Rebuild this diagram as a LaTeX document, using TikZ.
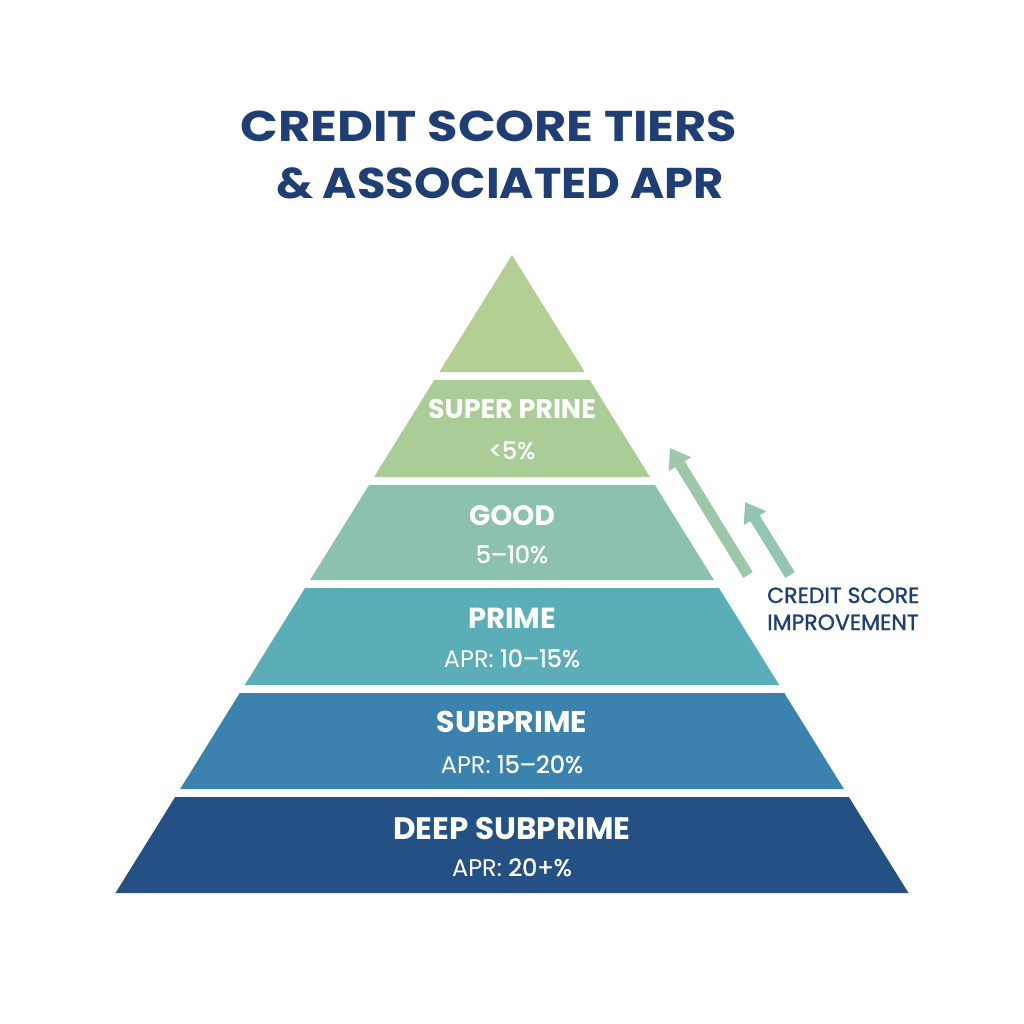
\documentclass[tikz,border=0pt]{standalone}
\usepackage{fontspec}
\setmainfont{Poppins}
\newfontfamily\titlefont[FakeStretch=1.15]{Poppins}
\newfontfamily\titlefontb[FakeStretch=1.08]{Poppins}
\newfontfamily\medfont[FakeBold=1.3]{Poppins}
\usetikzlibrary{arrows.meta}
\definecolor{navy}{HTML}{1F3F74}
\definecolor{cA}{HTML}{B4CF94}
\definecolor{cB}{HTML}{AACC97}
\definecolor{cC}{HTML}{8DC1AF}
\definecolor{cD}{HTML}{5BADB7}
\definecolor{cE}{HTML}{3B82AE}
\definecolor{cF}{HTML}{245083}
\definecolor{arA}{HTML}{9CC7A9}
\definecolor{arB}{HTML}{92C5B4}
\newcommand\pyrband[3]{\fill[#3] ({512-0.6215*(#1-255)},#1) -- ({512+0.6215*(#1-255)},#1) -- ({512+0.6215*(#2-255)},#2) -- ({512-0.6215*(#2-255)},#2) -- cycle;}
\newcommand\fsz[1]{\fontsize{#1}{#1}\selectfont}
\begin{document}
\begin{tikzpicture}[x=1pt,y=-1pt,
  titletext/.style={text=navy,inner sep=0pt,anchor=base},
  tiername/.style={text=white,font=\bfseries,inner sep=0pt,anchor=base},
  tierrate/.style={text=white,font=\fsz{24},inner sep=0pt,anchor=base},
  sidetext/.style={text=navy,font=\medfont\fsz{22},inner sep=0pt,anchor=base west},
  uparrow/.style={line width=11pt,-{Triangle[width=25pt,length=19pt]}}]
\useasboundingbox (0,0) rectangle (1024,1024);
\fill[white] (0,0) rectangle (1024,1024);
% title
\node[titletext,font=\titlefont\fsz{43}\bfseries] (t1) at (489,142) {CREDIT SCORE TIERS};
\node[titletext,font=\titlefontb\fsz{43}\bfseries] (t2) at (500,199) {\& ASSOCIATED APR};
% pyramid
\fill[cA] (512,255) -- (584.7,372) -- (439.3,372) -- cycle;
\pyrband{380}{477}{cB}
\pyrband{485}{580}{cC}
\pyrband{588}{685}{cD}
\pyrband{693}{789}{cE}
\pyrband{797}{893}{cF}
% labels
\node[tiername,font=\fsz{27}\bfseries] (n1) at (512,418) {SUPER PRINE};
\node[tierrate] (r1) at (512,459) {{\medfont <5\%}};
\node[tiername,font=\fsz{28}\bfseries] (n2) at (512,525) {GOOD};
\node[tierrate] (r2) at (512,563) {{\medfont 5–10\%}};
\node[tiername,font=\fsz{29}\bfseries] (n3) at (512,628) {PRIME};
\node[tierrate] (r3) at (512,667) {APR: {\medfont 10–15\%}};
\node[tiername,font=\fsz{30}\bfseries] (n4) at (512,732) {SUBPRIME};
\node[tierrate] (r4) at (512,773) {APR: {\medfont 15–20\%}};
\node[tiername,font=\fsz{31}\bfseries] (n5) at (512,839) {DEEP SUBPRIME};
\node[tierrate] (r5) at (512,876) {APR: {\medfont 20+\%}};
% arrows
\coordinate (a1s) at (748,575);
\coordinate (a1e) at (670,448);
\coordinate (a2s) at (790,575);
\coordinate (a2e) at (745,502);
\draw[uparrow,arA] (a1s) -- (a1e);
\draw[uparrow,arB] (a2s) -- (a2e);
% side text
\node[sidetext] (s1) at (767,603) {CREDIT SCORE};
\node[sidetext] (s2) at (767,630) {IMPROVEMENT};
\end{tikzpicture}
\end{document}
